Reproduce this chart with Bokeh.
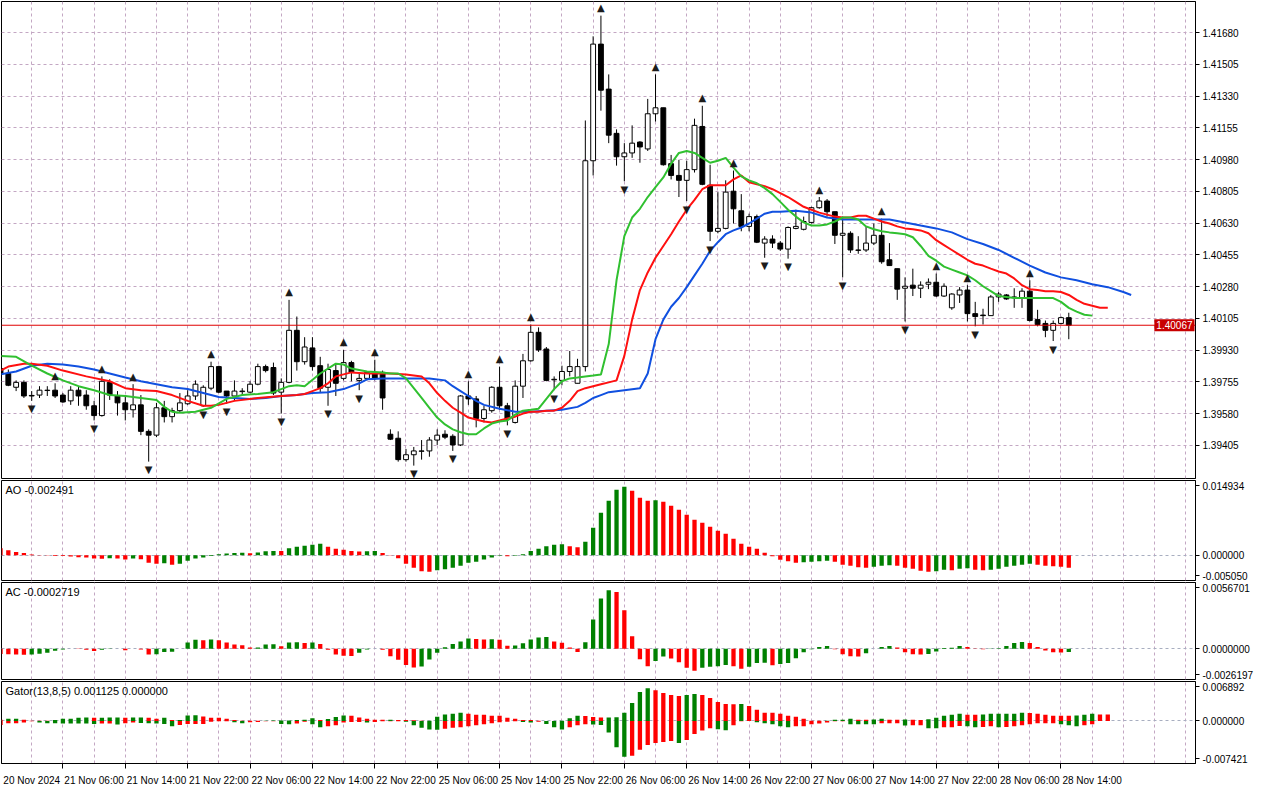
from bokeh.plotting import figure
from bokeh.models import Range1d, FixedTicker, LinearAxis, Grid, Span, Label, ColumnDataSource, PrintfTickFormatter
from bokeh.layouts import column
from bokeh.embed import file_html
from bokeh.resources import INLINE
from bokeh.core.properties import value

# ---------------- data (H1 bars, 20 Nov 22:00 .. 28 Nov 15:00) ----------------
opens = [1.39828, 1.39801, 1.39725, 1.39752, 1.39680, 1.39682, 1.39707, 1.39709, 1.39682, 1.39650,
         1.39709, 1.39682, 1.39623, 1.39569, 1.39752, 1.39677, 1.39639, 1.39601, 1.39628, 1.39482,
         1.39461, 1.39612, 1.39563, 1.39596, 1.39634, 1.39677, 1.39623, 1.39720, 1.39839, 1.39704,
         1.39677, 1.39701, 1.39698, 1.39742, 1.39839, 1.39834, 1.39698, 1.39752, 1.40039, 1.39866,
         1.39942, 1.39844, 1.39725, 1.39817, 1.39774, 1.39861, 1.39763, 1.39774, 1.39801, 1.39807,
         1.39466, 1.39444, 1.39326, 1.39353, 1.39372, 1.39374, 1.39434, 1.39466, 1.39455, 1.39407,
         1.39677, 1.39661, 1.39553, 1.39596, 1.39725, 1.39623, 1.39531, 1.39731, 1.39871, 1.40028,
         1.39936, 1.39766, 1.39763, 1.39812, 1.39747, 1.39839, 1.40974, 1.41617, 1.41369, 1.41125,
         1.40996, 1.41017, 1.41077, 1.41039, 1.41233, 1.41266, 1.40958, 1.40893, 1.40866, 1.40925,
         1.41163, 1.40839, 1.40585, 1.40601, 1.40806, 1.40698, 1.40612, 1.40666, 1.40520, 1.40542,
         1.40520, 1.40487, 1.40601, 1.40596, 1.40634, 1.40715, 1.40752, 1.40693, 1.40563, 1.40574,
         1.40482, 1.40482, 1.40520, 1.40563, 1.40428, 1.40379, 1.40271, 1.40288, 1.40271, 1.40293,
         1.40304, 1.40228, 1.40163, 1.40234, 1.40261, 1.40131, 1.40123, 1.40120, 1.40223, 1.40234,
         1.40223, 1.40217, 1.40255, 1.40098, 1.40077, 1.40039, 1.40077, 1.40109]
highs = [1.39844, 1.39823, 1.39763, 1.39763, 1.39704, 1.39731, 1.39731, 1.39747, 1.39693, 1.39731,
         1.39731, 1.39709, 1.39650, 1.39785, 1.39769, 1.39704, 1.39682, 1.39742, 1.39682, 1.39493,
         1.39639, 1.39650, 1.39612, 1.39693, 1.39709, 1.39763, 1.39736, 1.39866, 1.39844, 1.39704,
         1.39763, 1.39720, 1.39758, 1.39855, 1.39850, 1.39861, 1.39774, 1.40207, 1.40115, 1.40001,
         1.40001, 1.39893, 1.39855, 1.39855, 1.39931, 1.39871, 1.39801, 1.39812, 1.39877, 1.39817,
         1.39493, 1.39482, 1.39385, 1.39396, 1.39434, 1.39450, 1.39493, 1.39488, 1.39466, 1.39682,
         1.39758, 1.39677, 1.39623, 1.39731, 1.39839, 1.39639, 1.39763, 1.39909, 1.40071, 1.40055,
         1.39947, 1.39785, 1.39844, 1.39925, 1.39882, 1.41196, 1.41660, 1.41774, 1.41450, 1.41147,
         1.41071, 1.41169, 1.41082, 1.41315, 1.41450, 1.41266, 1.41006, 1.40979, 1.40974, 1.41206,
         1.41277, 1.40952, 1.40801, 1.40866, 1.40920, 1.40790, 1.40682, 1.40677, 1.40558, 1.40563,
         1.40531, 1.40612, 1.40704, 1.40666, 1.40720, 1.40774, 1.40763, 1.40693, 1.40666, 1.40585,
         1.40558, 1.40612, 1.40628, 1.40655, 1.40520, 1.40379, 1.40331, 1.40379, 1.40309, 1.40325,
         1.40352, 1.40298, 1.40244, 1.40277, 1.40288, 1.40196, 1.40158, 1.40234, 1.40250, 1.40239,
         1.40271, 1.40271, 1.40315, 1.40152, 1.40093, 1.40093, 1.40115, 1.40136]
lows = [1.39774, 1.39731, 1.39704, 1.39666, 1.39650, 1.39666, 1.39677, 1.39666, 1.39639, 1.39628,
        1.39623, 1.39601, 1.39542, 1.39563, 1.39655, 1.39569, 1.39542, 1.39558, 1.39461, 1.39315,
        1.39450, 1.39531, 1.39531, 1.39585, 1.39628, 1.39655, 1.39617, 1.39709, 1.39693, 1.39634,
        1.39650, 1.39677, 1.39693, 1.39736, 1.39807, 1.39682, 1.39580, 1.39747, 1.39817, 1.39850,
        1.39817, 1.39693, 1.39623, 1.39677, 1.39763, 1.39758, 1.39709, 1.39763, 1.39763, 1.39601,
        1.39434, 1.39315, 1.39315, 1.39293, 1.39326, 1.39342, 1.39407, 1.39439, 1.39374, 1.39401,
        1.39628, 1.39504, 1.39531, 1.39585, 1.39601, 1.39515, 1.39525, 1.39666, 1.39866, 1.39920,
        1.39758, 1.39709, 1.39736, 1.39785, 1.39747, 1.39812, 1.40893, 1.41250, 1.41071, 1.40947,
        1.40861, 1.40990, 1.40963, 1.41028, 1.41190, 1.40947, 1.40871, 1.40774, 1.40752, 1.40909,
        1.40839, 1.40531, 1.40574, 1.40596, 1.40628, 1.40585, 1.40585, 1.40520, 1.40439, 1.40493,
        1.40477, 1.40434, 1.40596, 1.40590, 1.40628, 1.40709, 1.40666, 1.40515, 1.40331, 1.40466,
        1.40461, 1.40471, 1.40509, 1.40406, 1.40396, 1.40207, 1.40088, 1.40228, 1.40217, 1.40266,
        1.40223, 1.40223, 1.40152, 1.40190, 1.40088, 1.40061, 1.40071, 1.40120, 1.40196, 1.40207,
        1.40163, 1.40163, 1.40088, 1.40061, 1.40001, 1.39980, 1.40071, 1.39990]
closes = [1.39796, 1.39736, 1.39752, 1.39677, 1.39677, 1.39709, 1.39709, 1.39677, 1.39644, 1.39709,
          1.39677, 1.39623, 1.39569, 1.39758, 1.39682, 1.39639, 1.39601, 1.39628, 1.39482, 1.39461,
          1.39612, 1.39563, 1.39596, 1.39639, 1.39677, 1.39742, 1.39725, 1.39839, 1.39698, 1.39677,
          1.39704, 1.39704, 1.39742, 1.39839, 1.39817, 1.39693, 1.39752, 1.40039, 1.39866, 1.39947,
          1.39839, 1.39720, 1.39823, 1.39747, 1.39861, 1.39807, 1.39774, 1.39807, 1.39774, 1.39666,
          1.39439, 1.39326, 1.39353, 1.39374, 1.39374, 1.39434, 1.39461, 1.39450, 1.39407, 1.39677,
          1.39661, 1.39553, 1.39601, 1.39725, 1.39623, 1.39547, 1.39731, 1.39871, 1.40028, 1.39931,
          1.39763, 1.39769, 1.39812, 1.39839, 1.39839, 1.40974, 1.41617, 1.41363, 1.41115, 1.40996,
          1.41017, 1.41071, 1.41050, 1.41233, 1.41266, 1.40952, 1.40893, 1.40866, 1.40925, 1.41169,
          1.40844, 1.40585, 1.40601, 1.40801, 1.40709, 1.40612, 1.40666, 1.40525, 1.40542, 1.40520,
          1.40487, 1.40606, 1.40612, 1.40639, 1.40715, 1.40752, 1.40693, 1.40563, 1.40574, 1.40482,
          1.40480, 1.40520, 1.40563, 1.40417, 1.40396, 1.40266, 1.40282, 1.40271, 1.40288, 1.40304,
          1.40228, 1.40282, 1.40239, 1.40261, 1.40131, 1.40115, 1.40120, 1.40223, 1.40239, 1.40212,
          1.40220, 1.40255, 1.40093, 1.40071, 1.40039, 1.40077, 1.40109, 1.40067]
last_price = 1.40067

# Alligator (lines shifted forward: lips +3, teeth +5, jaw +8)
lips_x = [0, 2, 4, 6, 8, 10, 12, 14, 16, 18, 20, 21, 22, 23, 25, 27, 29, 31, 33, 35,
          37, 38, 39, 41, 43, 44, 45, 47, 49] + list(range(50, 141))
lips_y = [1.39898, 1.39893, 1.39844, 1.39801, 1.39763, 1.39731, 1.39709, 1.39682, 1.39677, 1.39666,
          1.39655, 1.39617, 1.39590, 1.39585, 1.39590, 1.39612, 1.39661, 1.39682, 1.39688, 1.39698,
          1.39731, 1.39736, 1.39731, 1.39801, 1.39855, 1.39850, 1.39828, 1.39812, 1.39807,
          1.39801, 1.39801, 1.39774, 1.39720, 1.39666, 1.39612, 1.39558, 1.39520, 1.39493, 1.39477,
          1.39466, 1.39466, 1.39498, 1.39525, 1.39536, 1.39542, 1.39574, 1.39596, 1.39601, 1.39607,
          1.39661, 1.39715, 1.39758, 1.39774, 1.39779, 1.39785, 1.39790, 1.39796, 1.39963, 1.40315,
          1.40558, 1.40661, 1.40709, 1.40774, 1.40828, 1.40882, 1.40958, 1.41017, 1.41028, 1.41017,
          1.40990, 1.40963, 1.40974, 1.40990, 1.40936, 1.40888, 1.40866, 1.40850, 1.40823, 1.40790,
          1.40747, 1.40704, 1.40666, 1.40634, 1.40617, 1.40617, 1.40623, 1.40639, 1.40661, 1.40661,
          1.40650, 1.40612, 1.40596, 1.40585, 1.40579, 1.40574, 1.40569, 1.40552, 1.40504, 1.40450,
          1.40423, 1.40390, 1.40374, 1.40358, 1.40342, 1.40315, 1.40282, 1.40255, 1.40228, 1.40223,
          1.40217, 1.40217, 1.40217, 1.40217, 1.40217, 1.40217, 1.40196, 1.40163, 1.40142, 1.40125,
          1.40120]
teeth_x = [0, 1, 3, 4, 6, 8, 11, 14, 16, 18, 20, 22, 24, 26, 27, 28, 30, 33, 36, 38,
           39, 40, 41, 42, 43, 45, 47, 50, 52, 54] + list(range(55, 143))
teeth_y = [1.39817, 1.39839, 1.39855, 1.39855, 1.39844, 1.39817, 1.39785, 1.39758, 1.39720, 1.39709,
           1.39704, 1.39682, 1.39650, 1.39623, 1.39623, 1.39628, 1.39650, 1.39666, 1.39677, 1.39682,
           1.39688, 1.39704, 1.39720, 1.39747, 1.39785, 1.39807, 1.39801, 1.39801, 1.39796, 1.39785,
           1.39747, 1.39693, 1.39650, 1.39612, 1.39585,
           1.39558, 1.39547, 1.39536, 1.39531, 1.39542, 1.39553, 1.39563, 1.39580, 1.39590, 1.39590,
           1.39596, 1.39596, 1.39612, 1.39650, 1.39704, 1.39720, 1.39731, 1.39742, 1.39752, 1.39763,
           1.39898, 1.40098, 1.40261, 1.40358, 1.40439, 1.40504, 1.40569, 1.40639, 1.40704, 1.40758,
           1.40817, 1.40839, 1.40839, 1.40839, 1.40871, 1.40893, 1.40855, 1.40844, 1.40834, 1.40817,
           1.40796, 1.40774, 1.40747, 1.40720, 1.40704, 1.40688, 1.40677, 1.40666, 1.40661, 1.40661,
           1.40671, 1.40671, 1.40655, 1.40639, 1.40628, 1.40612, 1.40601, 1.40596, 1.40590, 1.40574,
           1.40536, 1.40509, 1.40482, 1.40455, 1.40428, 1.40406, 1.40396, 1.40379, 1.40363, 1.40352,
           1.40325, 1.40288, 1.40266, 1.40261, 1.40255, 1.40255, 1.40250, 1.40234, 1.40207, 1.40185,
           1.40174, 1.40163, 1.40163]
jaw_x = list(range(0, 45, 2)) + [45, 46, 47, 49, 51, 53, 55, 57, 58, 59, 60, 61, 62, 64, 66, 68,
                                 70, 72, 74, 75, 76, 77, 78, 80, 82] + list(range(83, 101)) + list(range(102, 145, 2)) + [145]
jaw_y = [1.39796, 1.39812, 1.39844, 1.39855, 1.39850, 1.39839, 1.39823, 1.39801, 1.39779, 1.39758,
         1.39742, 1.39725, 1.39715, 1.39693, 1.39671, 1.39666, 1.39661, 1.39666, 1.39677, 1.39682,
         1.39693, 1.39698, 1.39715,
         1.39731, 1.39747, 1.39769, 1.39774, 1.39774, 1.39774, 1.39774, 1.39763, 1.39731, 1.39704,
         1.39677, 1.39650, 1.39628, 1.39607, 1.39590, 1.39590, 1.39596, 1.39601, 1.39617, 1.39639,
         1.39666, 1.39682, 1.39698, 1.39709, 1.39720,
         1.39801, 1.39990, 1.40098, 1.40169, 1.40217, 1.40277, 1.40342, 1.40406, 1.40477, 1.40525,
         1.40569, 1.40590, 1.40606, 1.40628, 1.40655, 1.40682, 1.40693, 1.40693,
         1.40698, 1.40688, 1.40661, 1.40650, 1.40650, 1.40650, 1.40650, 1.40634, 1.40617, 1.40601,
         1.40579, 1.40542, 1.40515, 1.40482, 1.40439, 1.40396, 1.40358, 1.40331, 1.40315, 1.40293,
         1.40277, 1.40250,
         1.40234]

fractal_up = [7, 13, 17, 27, 37, 44, 48, 60, 64, 68, 77, 84, 90, 94, 105, 113, 120, 124, 132]
fractal_dn = [4, 12, 19, 26, 29, 36, 42, 46, 53, 58, 65, 71, 80, 88, 91, 98, 101, 108, 116, 125, 135]

ao = [0.0014, 0.0010, 0.00067, 0.00047, 0.00013, 0.00005, -0.00007, -0.00013, -0.00015, -0.00027,
      -0.0004, -0.00047, -0.00067, -0.0007, -0.0006, -0.00067, -0.00087, -0.00067, -0.0008, -0.0015,
      -0.0017, -0.0016, -0.0019, -0.0017, -0.0011, -0.00067, -0.00047, -0.00013, 0.0002, 0.00033,
      0.00047, 0.0005, 0.0004, 0.00053, 0.0008, 0.00087, 0.00085, 0.0014, 0.0017, 0.0019,
      0.0021, 0.0023, 0.0017, 0.0013, 0.0011, 0.00087, 0.00073, 0.00078, 0.00087, 0.00047,
      0.00007, -0.0006, -0.0017, -0.0025, -0.0032, -0.0033, -0.0030, -0.0028, -0.0025, -0.0021,
      -0.0015, -0.0013, -0.00087, -0.00047, -0.0001, -0.0002, -0.0001, 0.0002, 0.00087, 0.0013,
      0.0018, 0.0021, 0.0022, 0.0018, 0.0016, 0.0027, 0.0055, 0.0085, 0.0109, 0.0131,
      0.0137, 0.0129, 0.0115, 0.0109, 0.0110, 0.0107, 0.0099, 0.0091, 0.0081, 0.0071,
      0.0065, 0.0057, 0.0049, 0.0043, 0.0033, 0.0023, 0.0017, 0.0013, 0.0005, -0.0002,
      -0.0009, -0.0012, -0.0015, -0.0014, -0.0013, -0.0012, -0.0011, -0.0013, -0.0019, -0.0021,
      -0.0024, -0.0025, -0.0023, -0.0021, -0.0020, -0.0021, -0.0025, -0.0027, -0.0031, -0.0033,
      -0.0032, -0.0029, -0.0030, -0.0027, -0.0026, -0.0029, -0.0030, -0.0029, -0.0027, -0.0023,
      -0.0021, -0.0019, -0.0017, -0.0019, -0.0021, -0.0022, -0.0023, -0.002491]

ac = [-0.00044, -0.00047, -0.00049, -0.00051, -0.00048, -0.00041, -0.00033, -0.00016, -0.00005, 0.00001,
      -0.00001, -0.00008, -0.00019, -0.00008, -0.00001, 0.00001, -0.00011, 0.0, -0.00005, -0.00049,
      -0.00047, -0.00027, -0.00025, 0.00001, 0.00055, 0.00077, 0.00074, 0.0008, 0.00074, 0.00055,
      0.00038, 0.0003, 0.00011, 0.00012, 0.00038, 0.0004, 0.00022, 0.00055, 0.00056, 0.00049,
      0.00055, 0.00041, -0.00008, -0.00049, -0.0006, -0.00062, -0.00033, -0.00005, 0.0, -0.00008,
      -0.00063, -0.00093, -0.00137, -0.00159, -0.00151, -0.00091, -0.00033, 0.00014, 0.00041, 0.00063,
      0.00088, 0.00085, 0.0008, 0.00081, 0.00077, 0.00027, 0.00029, 0.00047, 0.0008, 0.00096,
      0.00102, 0.00063, 0.00052, 0.00011, -0.00027, 0.00057, 0.0025, 0.0043, 0.0050, 0.00486,
      0.0033, 0.00107, -0.00088, -0.00148, -0.00104, -0.00066, -0.00082, -0.00115, -0.00162, -0.00187,
      -0.00162, -0.00154, -0.00148, -0.00137, -0.00148, -0.0017, -0.00154, -0.00121, -0.00118, -0.0014,
      -0.00129, -0.00121, -0.0008, -0.0003, -0.00003, 0.00016, 0.00025, -0.00003, -0.00047, -0.00063,
      -0.00066, -0.00038, 0.00001, 0.00016, 0.00025, 0.00011, -0.0003, -0.00047, -0.00048, -0.00044,
      -0.00022, 0.00008, 0.0001, 0.00025, 0.00016, -0.00001, -0.00003, -0.00002, 0.00005, 0.00025,
      0.00049, 0.00058, 0.00049, 0.00016, -0.00014, -0.00029, -0.00031, -0.0002719]

gator_up = [0.000229, 0.000401, 0.000401, 0.000229, 0.000057, 0.000057, 0.000057, 0.000172, 0.000401, 0.000401,
            0.000573, 0.000590, 0.000560, 0.000575, 0.000590, 0.000600, 0.000580, 0.000595, 0.000605, 0.000580,
            0.000401, 0.000573, 0.000172, 0.000180, 0.000973, 0.000990, 0.000802, 0.000573, 0.000573, 0.000401,
            0.000172, 0.000057, 0.000057, 0.000050, 0.000057, 0.000065, 0.000070, 0.000080, 0.000172, 0.000229,
            0.000458, 0.000172, 0.000344, 0.000687, 0.000973, 0.000916, 0.000630, 0.000401, 0.000229, 0.000220,
            0.000229, 0.000172, 0.000165, 0.000115, 0.000057, 0.000060, 0.000744, 0.001145, 0.001260, 0.001431,
            0.001260, 0.001088, 0.001080, 0.000916, 0.000910, 0.000573, 0.000401, 0.000172, 0.000165, 0.000057,
            0.0, 0.0, 0.000057, 0.000458, 0.000916, 0.000859, 0.000687, 0.000600, 0.000620, 0.000640,
            0.001431, 0.003149, 0.005038, 0.005725, 0.005382, 0.004866, 0.004523, 0.004351, 0.004523, 0.004695,
            0.004523, 0.004008, 0.003321, 0.002977, 0.002920, 0.002977, 0.002634, 0.001947, 0.001431, 0.001420,
            0.001260, 0.000916, 0.000744, 0.000401, 0.000057, 0.000020, 0.000030, 0.000229, 0.000235, 0.000401,
            0.000229, 0.000225, 0.000240, 0.000401, 0.000229, 0.000225, 0.000240, 0.000230, 0.000172, 0.000286,
            0.000573, 0.000916, 0.001088, 0.001260, 0.001088, 0.001088, 0.001145, 0.001260, 0.001260, 0.001260,
            0.001260, 0.001431, 0.001374, 0.001260, 0.001088, 0.000916, 0.000916, 0.000916, 0.000973, 0.001088,
            0.001260, 0.001150, 0.001125]
gator_dn = [-0.000687, -0.000401, -0.000401, -0.000286, -0.000057, -0.000286, -0.000401, -0.000401, -0.000458, -0.000458,
            -0.000458, -0.000458, -0.000515, -0.000458, -0.000458, -0.000630, -0.000401, -0.000286, -0.000344, -0.000401,
            -0.000458, -0.000515, -0.000916, -0.000687, -0.000515, -0.000515, -0.000515, -0.000115, -0.000057, -0.000057,
            -0.000229, -0.000401, -0.000229, -0.000172, -0.000057, -0.000057, -0.000515, -0.000573, -0.000458, -0.000115,
            -0.000573, -0.001088, -0.000916, -0.000744, -0.000286, -0.000172, -0.000172, -0.000286, -0.000172, -0.000057,
            -0.000057, -0.000057, -0.000115, -0.000744, -0.001202, -0.001489, -0.001546, -0.001374, -0.001202, -0.001088,
            -0.000916, -0.000744, -0.000573, -0.000401, -0.000229, -0.000115, -0.000057, -0.000172, -0.000286, -0.000115,
            -0.000515, -0.001088, -0.001489, -0.001088, -0.000744, -0.000573, -0.000630, -0.000687, -0.002004, -0.004580,
            -0.006240, -0.006069, -0.005038, -0.004179, -0.003836, -0.003664, -0.003492, -0.003836, -0.003321, -0.002290,
            -0.001660, -0.001260, -0.001431, -0.001603, -0.000744, -0.000057, 0.0, -0.000229, -0.000401, -0.000573,
            -0.000916, -0.001088, -0.000916, -0.000910, -0.000573, -0.000458, -0.000286, -0.000057, -0.000057, -0.000573,
            -0.000573, -0.000573, -0.000573, -0.000401, -0.000401, -0.000401, -0.000802, -0.000744, -0.000744, -0.001260,
            -0.001260, -0.001088, -0.001088, -0.000887, -0.000916, -0.001088, -0.001059, -0.000916, -0.001088, -0.001059,
            -0.000916, -0.000744, -0.000573, -0.000401, -0.000401, -0.000401, -0.000573, -0.000744, -0.000916, -0.000744,
            -0.000573, 0.0, 0.0]

price_ticks = [1.39405, 1.39580, 1.39755, 1.39930, 1.40105, 1.40280, 1.40455, 1.40630,
               1.40805, 1.40980, 1.41155, 1.41330, 1.41505, 1.41680]
time_labels = ["20 Nov 2024", "21 Nov 06:00", "21 Nov 14:00", "21 Nov 22:00", "22 Nov 06:00",
               "22 Nov 14:00", "22 Nov 22:00", "25 Nov 06:00", "25 Nov 14:00", "25 Nov 22:00",
               "26 Nov 06:00", "26 Nov 14:00", "26 Nov 22:00", "27 Nov 06:00", "27 Nov 14:00",
               "27 Nov 22:00", "28 Nov 06:00", "28 Nov 14:00"]

ao_title = "AO -0.002491"
ac_title = "AC -0.0002719"
gator_title = "Gator(13,8,5) 0.001125 0.000000"
ao_lim = (-0.005050, 0.014934, "-0.005050", "0.014934", "0.000000")
ac_lim = (-0.0026197, 0.0056701, "-0.0026197", "0.0056701", "0.0000000")
gator_lim = (-0.007421, 0.006892, "-0.007421", "0.006892", "0.000000")

# ---------------- styling ----------------
FONT = "Liberation Sans"
GRID = "#c3a7c3"
GREEN = "#008000"
RED = "#ff0000"
XMIN, XMAX = 0.125, 153.25
FW = 1194
XR = Range1d(XMIN, XMAX)
grid_x = list(range(0, 154, 4))


def trend_colors(vals, use_abs=False):
    cols = []
    for i, v in enumerate(vals):
        if i == 0:
            cols.append(RED)
            continue
        a = abs(v) if use_abs else v
        b = abs(vals[i - 1]) if use_abs else vals[i - 1]
        cols.append(GREEN if a > b else (RED if a < b else cols[-1]))
    return cols


def make_fig(h, y0, y1, top_border=0, xaxis=False):
    p = figure(frame_width=FW, frame_height=h, x_range=XR, y_range=Range1d(y0, y1),
               output_backend="svg", toolbar_location=None,
               x_axis_location="below" if xaxis else None, y_axis_location="right",
               min_border_left=1, min_border_right=1, min_border_top=top_border,
               min_border_bottom=2)
    p.outline_line_color = "black"
    p.outline_line_width = 1
    p.background_fill_color = "white"
    p.border_fill_color = "white"
    p.grid.visible = False
    ax = p.yaxis[0]
    ax.axis_line_color = "black"
    ax.major_tick_out = 4
    ax.major_tick_in = 0
    ax.minor_tick_out = 0
    ax.minor_tick_in = 0
    ax.major_label_standoff = 3
    ax.major_label_text_font = FONT
    ax.major_label_text_font_size = "10px"
    ax.major_label_text_color = "black"
    p.add_layout(Grid(dimension=0, ticker=FixedTicker(ticks=grid_x), grid_line_color=GRID,
                      grid_line_dash="3 3", grid_line_width=1))
    return p


def indicator_axis(p, lim, h):
    lo, hi, lo_s, hi_s, zero_s = lim
    d = (hi - lo) * 5.0 / h
    top_t = round(hi - d, 7)
    bot_t = round(lo + d, 7)
    ax = p.yaxis[0]
    ax.ticker = FixedTicker(ticks=[bot_t, 0.0, top_t])
    ax.major_label_overrides = {bot_t: lo_s, 0.0: zero_s, top_t: hi_s}
    p.add_layout(Grid(dimension=1, ticker=FixedTicker(ticks=[0.0]), grid_line_color="#a8aec0",
                      grid_line_dash="3 3", grid_line_width=1))


def title(p, text, ytop):
    p.add_layout(Label(x=XMIN, y=ytop, x_units="data", y_units="data", text=text,
                       x_offset=4, y_offset=-3, text_baseline="top", text_align="left",
                       text_font=FONT, text_font_size="11px", text_color="black"))


idx = list(range(len(opens)))

# ---------------- main price panel ----------------
MAIN_H = 477
p1 = make_fig(MAIN_H, 1.39222, 1.41852, top_border=1)
p1.yaxis[0].ticker = FixedTicker(ticks=price_ticks)
p1.yaxis[0].formatter = PrintfTickFormatter(format="%.5f")
p1.add_layout(Grid(dimension=1, ticker=FixedTicker(ticks=price_ticks), grid_line_color=GRID,
                   grid_line_dash="3 3", grid_line_width=1))

body_top = [max(o, c) for o, c in zip(opens, closes)]
body_bot = [min(o, c) for o, c in zip(opens, closes)]
body_fill = ["white" if c >= o else "black" for o, c in zip(opens, closes)]
csrc = ColumnDataSource(dict(x=idx, h=highs, l=lows, t=body_top, b=body_bot, f=body_fill))
p1.segment(x0="x", y0="l", x1="x", y1="h", source=csrc, line_color="black", line_width=1)
p1.vbar(x="x", width=0.62, top="t", bottom="b", source=csrc, fill_color="f", line_color="black",
        line_width=1)

p1.line(jaw_x, jaw_y, line_color="#1050e0", line_width=2)
p1.line(teeth_x, teeth_y, line_color="#ff1010", line_width=2)
p1.line(lips_x, lips_y, line_color="#30c030", line_width=2)

p1.add_layout(Span(location=last_price, dimension="width", line_color="#e00000", line_width=1))

fu = ColumnDataSource(dict(x=fractal_up, y=[highs[i] for i in fractal_up], t=["▲"] * len(fractal_up)))
fd = ColumnDataSource(dict(x=fractal_dn, y=[lows[i] for i in fractal_dn], t=["▼"] * len(fractal_dn)))
p1.text(x="x", y="y", text="t", source=fu, text_font=value("DejaVu Sans"), text_font_size=value("10px"),
        text_align="center", text_baseline="middle", y_offset=-8, text_color="#1c1c1c")
p1.text(x="x", y="y", text="t", source=fd, text_font=value("DejaVu Sans"), text_font_size=value("10px"),
        text_align="center", text_baseline="middle", y_offset=8, text_color="#1c1c1c")

# current-price tag (annotations in the centre are clipped to the frame: keep it at the frame's right edge)
p1.add_layout(Label(x=XMAX, y=last_price, x_units="data", y_units="data", text="1.40067",
                    x_offset=-1, text_baseline="middle", text_align="right", text_font=FONT,
                    text_font_size="10px", text_color="white", background_fill_color="#c80000",
                    padding=2))

# ---------------- AO ----------------
AO_H = 100
p2 = make_fig(AO_H, ao_lim[0], ao_lim[1])
indicator_axis(p2, ao_lim, AO_H)
p2.vbar(x=idx, width=0.55, top=ao, bottom=0, fill_color=trend_colors(ao), line_color=None)
title(p2, ao_title, ao_lim[1])

# ---------------- AC ----------------
AC_H = 97
p3 = make_fig(AC_H, ac_lim[0], ac_lim[1])
indicator_axis(p3, ac_lim, AC_H)
p3.vbar(x=idx, width=0.55, top=ac, bottom=0, fill_color=trend_colors(ac), line_color=None)
title(p3, ac_title, ac_lim[1])

# ---------------- Gator ----------------
GT_H = 82
p4 = make_fig(GT_H, gator_lim[0], gator_lim[1], xaxis=True)
indicator_axis(p4, gator_lim, GT_H)
gidx = list(range(len(gator_up)))
p4.vbar(x=gidx, width=0.55, top=gator_up, bottom=0, fill_color=trend_colors(gator_up, True), line_color=None)
p4.vbar(x=gidx, width=0.55, top=0, bottom=gator_dn, fill_color=trend_colors(gator_dn, True), line_color=None)
title(p4, gator_title, gator_lim[1])

tick_pos = [8 * k for k in range(len(time_labels))]
xa = p4.xaxis[0]
xa.ticker = FixedTicker(ticks=tick_pos)
xa.major_label_overrides = {t: "" for t in tick_pos}
xa.major_label_text_font_size = "1px"
xa.major_label_standoff = 0
xa.major_tick_out = 5
xa.major_tick_in = 0
xa.minor_tick_out = 0
xa.axis_line_color = "black"
lab_pos = [t + 4 for t in tick_pos]
xa2 = LinearAxis(ticker=FixedTicker(ticks=lab_pos),
                 major_label_overrides={lp: s for lp, s in zip(lab_pos, time_labels)},
                 axis_line_color=None, major_tick_line_color=None, minor_tick_line_color=None,
                 major_label_standoff=0, major_label_text_font=FONT,
                 major_label_text_font_size="10px", major_label_text_color="black")
p4.add_layout(xa2, "below")

layout = column(p1, p2, p3, p4, spacing=0)
open("out.html", "w").write(file_html(layout, INLINE))
